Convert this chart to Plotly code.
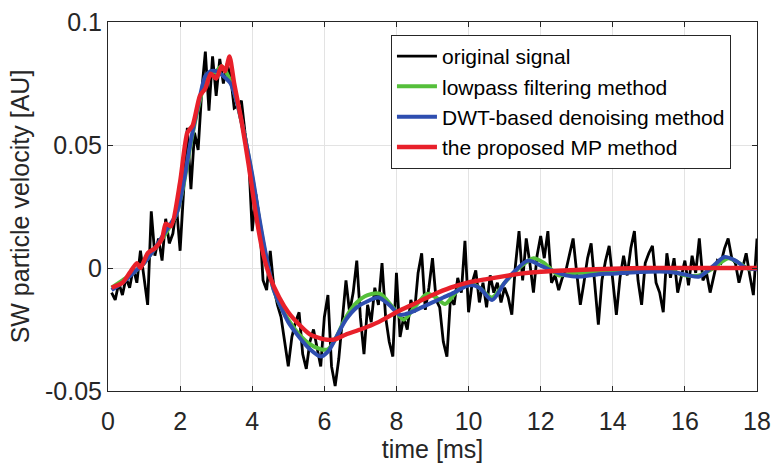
import plotly.graph_objects as go

# ---- data ----
t_orig = [round(0.1 * i, 1) for i in range(1, 181)]
v_orig = [
    -0.010, -0.013, -0.006, -0.011, -0.004, -0.008, 0.000, -0.006, 0.007, -0.004,
    -0.015, 0.023, 0.005, 0.012, 0.003, 0.020, 0.010, 0.014, 0.025, 0.007,
    0.030, 0.057, 0.032, 0.055, 0.048, 0.072, 0.088, 0.064, 0.086, 0.070,
    0.085, 0.075, 0.083, 0.078, 0.065, 0.066, 0.068, 0.055, 0.045, 0.015,
    0.030, 0.020, -0.005, -0.009, 0.007, -0.008, -0.015, -0.020, -0.030, -0.040,
    -0.028, -0.022, -0.018, -0.035, -0.041, -0.030, -0.025, -0.033, -0.040, -0.020,
    -0.011, -0.040, -0.048, -0.037, -0.020, -0.005, -0.018, -0.010, 0.003, -0.020,
    -0.035, -0.015, -0.022, -0.008, -0.015, 0.002, -0.020, -0.030, -0.036, -0.002,
    -0.028, -0.020, -0.025, -0.013, -0.018, -0.002, 0.006, -0.017, -0.008, 0.004,
    -0.013, -0.016, -0.030, -0.036, -0.012, -0.015, -0.004, -0.010, 0.011, -0.018,
    -0.006, -0.001, -0.014, -0.006, -0.016, -0.003, -0.010, -0.006, -0.014, -0.008,
    -0.012, -0.019, 0.001, 0.015, -0.005, 0.012, 0.002, -0.010, 0.005, 0.013,
    0.004, 0.015, -0.006, -0.003, -0.009, -0.004, -0.001, 0.005, 0.012, -0.002,
    -0.015, -0.006, 0.004, 0.010, -0.008, -0.023, -0.005, 0.003, 0.009, -0.006,
    -0.019, -0.004, 0.005, -0.003, 0.008, 0.015, -0.005, -0.015, 0.002, 0.006,
    0.009, -0.006, -0.010, -0.018, 0.006, -0.004, 0.004, -0.010, -0.003, 0.003,
    -0.007, 0.005, -0.002, 0.012, -0.005, -0.002, -0.010, -0.004, 0.003, 0.002,
    0.008, 0.012, 0.004, 0.002, -0.006, 0.000, 0.006, -0.003, -0.011, 0.012,
]

t_low = [0.1, 0.4, 0.7, 1.0, 1.3, 1.6, 1.9, 2.1, 2.3, 2.5, 2.7, 2.85, 3.0, 3.15, 3.3, 3.45,
         3.6, 3.8, 4.0, 4.2, 4.4, 4.6, 4.8, 5.0, 5.3, 5.6, 5.9, 6.1, 6.3, 6.6, 6.9, 7.2,
         7.55, 7.9, 8.2, 8.5, 8.85, 9.1, 9.35, 9.7, 10.0, 10.3, 10.65, 11.0, 11.4, 11.8,
         12.1, 12.5, 12.9, 13.3, 13.8, 14.2, 14.7, 15.2, 15.6, 16.0, 16.4, 16.8, 17.2,
         17.5, 17.8, 18.0]
v_low = [-0.008, -0.005, -0.002, 0.002, 0.008, 0.014, 0.022, 0.034, 0.051, 0.065, 0.076,
         0.079, 0.080, 0.082, 0.079, 0.074, 0.066, 0.053, 0.037, 0.019, 0.003, -0.009,
         -0.016, -0.021, -0.027, -0.031, -0.033, -0.033, -0.029, -0.020, -0.014, -0.011,
         -0.0105, -0.016, -0.021, -0.016, -0.0105, -0.012, -0.0146, -0.009, -0.006,
         -0.008, -0.012, -0.006, 0.000, 0.004, 0.002, -0.003, -0.002, -0.002, -0.002,
         -0.0015, -0.0015, -0.001, -0.001, -0.003, -0.003, 0.000, 0.004, 0.002, -0.0005,
         0.000]

t_dwt = [0.1, 0.4, 0.7, 1.0, 1.3, 1.6, 1.9, 2.1, 2.3, 2.5, 2.7, 2.85, 3.0, 3.2, 3.4, 3.6,
         3.8, 4.0, 4.2, 4.4, 4.6, 4.8, 5.0, 5.3, 5.6, 5.9, 6.1, 6.3, 6.6, 6.9, 7.2, 7.5,
         7.8, 8.1, 8.4, 8.7, 9.0, 9.3, 9.6, 10.0, 10.3, 10.65, 11.0, 11.3, 11.65, 12.0,
         12.3, 12.7, 13.1, 13.6, 14.0, 14.5, 15.0, 15.5, 15.8, 16.1, 16.4, 16.8, 17.1,
         17.4, 17.7, 18.0]
v_dwt = [-0.009, -0.006, -0.002, 0.002, 0.008, 0.015, 0.022, 0.035, 0.052, 0.066, 0.078,
         0.080, 0.080, 0.078, 0.075, 0.066, 0.053, 0.038, 0.020, 0.004, -0.009, -0.016,
         -0.022, -0.028, -0.033, -0.036, -0.034, -0.029, -0.021, -0.016, -0.0135,
         -0.012, -0.015, -0.019, -0.018, -0.016, -0.014, -0.012, -0.010, -0.007, -0.008,
         -0.013, -0.006, -0.001, 0.003, 0.001, -0.001, -0.003, -0.0035, -0.0025,
         -0.0023, -0.0018, -0.0015, -0.0015, -0.002, -0.003, -0.0035, 0.001, 0.0045,
         0.003, 0.000, -0.0005]

t_mp = [0.1, 0.4, 0.6, 0.8, 0.9, 1.1, 1.3, 1.5, 1.6, 1.75, 2.0, 2.2, 2.35, 2.55, 2.7, 2.85,
        3.0, 3.15, 3.25, 3.37, 3.5, 3.7, 3.9, 4.1, 4.3, 4.5, 4.75, 5.0, 5.3, 5.6, 6.0, 6.3,
        6.6, 7.0, 7.5, 8.0, 8.5, 9.0, 9.5, 10.0, 10.5, 11.0, 11.5, 12.0, 13.0, 14.0, 15.0,
        16.0, 17.0, 18.0]
v_mp = [-0.008, -0.006, -0.002, 0.002, 0.000, 0.006, 0.008, 0.012, 0.018, 0.017, 0.035,
        0.055, 0.058, 0.070, 0.073, 0.079, 0.077, 0.082, 0.080, 0.086, 0.075, 0.060, 0.042,
        0.022, 0.006, -0.004, -0.012, -0.018, -0.023, -0.027, -0.029, -0.029, -0.027,
        -0.025, -0.022, -0.018, -0.0145, -0.011, -0.008, -0.0058, -0.0045, -0.0033,
        -0.0022, -0.0015, -0.0008, -0.0003, 0.0, 0.0, 0.0, 0.0]

x_ticks = [0, 2, 4, 6, 8, 10, 12, 14, 16, 18]
y_ticks = [-0.05, 0, 0.05, 0.1]
y_ticktext = ["-0.05", "0", "0.05", "0.1"]

# ---- figure ----
fig = go.Figure()
fig.add_trace(go.Scatter(x=t_orig, y=v_orig, mode="lines", name="original signal",
                         line=dict(color="#000000", width=2.8)))
fig.add_trace(go.Scatter(x=t_low, y=v_low, mode="lines", name="lowpass filtering method",
                         line=dict(color="#55bf3b", width=4, shape="spline", smoothing=0.8)))
fig.add_trace(go.Scatter(x=t_dwt, y=v_dwt, mode="lines", name="DWT-based denoising method",
                         line=dict(color="#2e4eb0", width=4, shape="spline", smoothing=0.8)))
fig.add_trace(go.Scatter(x=t_mp, y=v_mp, mode="lines", name="the proposed MP method",
                         line=dict(color="#e8202a", width=4.4, shape="spline", smoothing=0.6)))

axis_common = dict(
    showline=True, linecolor="#262626", linewidth=1, mirror="ticks",
    ticks="inside", ticklen=5, tickcolor="#262626",
    showgrid=True, gridcolor="#e3e3e3", gridwidth=1, zeroline=False,
    tickfont=dict(family="Liberation Sans, Arial", size=25, color="#262626"),
    ticklabeloverflow="allow", automargin=False,
)

fig.update_layout(
    width=771, height=464,
    margin=dict(l=108, r=14, t=22, b=73),
    paper_bgcolor="white", plot_bgcolor="white",
    font=dict(family="Liberation Sans, Arial", color="#262626"),
    xaxis=dict(range=[0, 18], tickvals=x_ticks, ticklabelstandoff=8,
               title=dict(text="time [ms]", font=dict(size=25, color="#262626"), standoff=4),
               **axis_common),
    yaxis=dict(range=[-0.05, 0.1], tickvals=y_ticks, ticktext=y_ticktext,
               title=dict(text="SW particle velocity [AU]", font=dict(size=25, color="#262626"),
                          standoff=8),
               **axis_common),
    legend=dict(x=0.436, y=0.965, xanchor="left", yanchor="top",
                bgcolor="white", bordercolor="#262626", borderwidth=1,
                font=dict(family="Liberation Sans, Arial", size=21, color="#000000"),
                tracegroupgap=0, itemwidth=40),
    showlegend=True,
)

fig.write_html("out.html")
